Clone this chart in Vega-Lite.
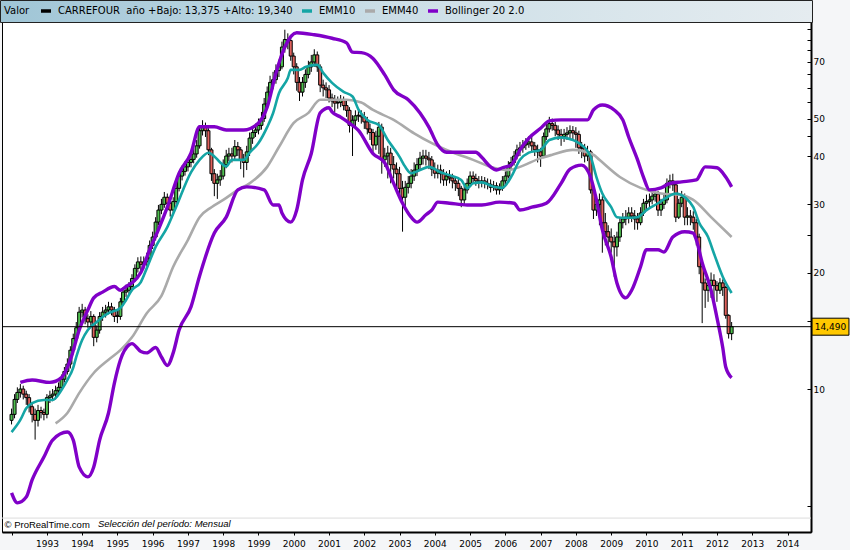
{
"$schema":"https://vega.github.io/schema/vega-lite/v6.json",
"width":809,"height":514,
"autosize":{"type":"none"},
"padding":{"left":2,"top":18,"right":39,"bottom":18},
"background":"#f5f6f8",
"config":{"view":{"stroke":"#000000","strokeWidth":1,"fill":"#ffffff"},"font":"DejaVu Sans"},
"title":{"text":"Selección del período: Mensual","orient":"top","anchor":"start","frame":"group","offset":0,"dx":96,"dy":534,"font":"Liberation Sans","fontSize":9.5,"fontStyle":"italic","fontWeight":"normal","color":"#000000","baseline":"middle"},
"datasets":{
"last":[{"p":14.49,"t":"14,490"}],
"candles":[
{"d":"1992-01-01","o":8.3,"h":8.9,"l":8.1,"c":8.6},
{"d":"1992-02-01","o":8.6,"h":9.7,"l":8.4,"c":9.4},
{"d":"1992-03-01","o":9.4,"h":10.1,"l":9.2,"c":9.8},
{"d":"1992-04-01","o":9.8,"h":10.3,"l":9.5,"c":10.0},
{"d":"1992-05-01","o":10.0,"h":10.2,"l":9.4,"c":9.7},
{"d":"1992-06-01","o":9.7,"h":9.9,"l":9.1,"c":9.5},
{"d":"1992-07-01","o":9.5,"h":9.7,"l":8.7,"c":9.0},
{"d":"1992-08-01","o":9.0,"h":9.2,"l":8.2,"c":8.6},
{"d":"1992-09-01","o":8.6,"h":8.9,"l":7.4,"c":8.3},
{"d":"1992-10-01","o":8.3,"h":9.1,"l":8.0,"c":8.8},
{"d":"1992-11-01","o":8.8,"h":9.0,"l":8.4,"c":8.7},
{"d":"1992-12-01","o":8.7,"h":8.9,"l":8.3,"c":8.6},
{"d":"1993-01-01","o":8.6,"h":9.7,"l":8.4,"c":9.5},
{"d":"1993-02-01","o":9.5,"h":9.9,"l":9.2,"c":9.6},
{"d":"1993-03-01","o":9.6,"h":10.0,"l":9.3,"c":9.7},
{"d":"1993-04-01","o":9.7,"h":10.2,"l":9.4,"c":9.9},
{"d":"1993-05-01","o":9.9,"h":10.4,"l":9.6,"c":10.1},
{"d":"1993-06-01","o":10.1,"h":10.9,"l":9.9,"c":10.6},
{"d":"1993-07-01","o":10.6,"h":11.4,"l":10.4,"c":11.1},
{"d":"1993-08-01","o":11.1,"h":12.0,"l":10.9,"c":11.6},
{"d":"1993-09-01","o":11.6,"h":12.9,"l":11.3,"c":12.6},
{"d":"1993-10-01","o":12.6,"h":13.9,"l":12.3,"c":13.5},
{"d":"1993-11-01","o":13.5,"h":14.9,"l":13.2,"c":14.4},
{"d":"1993-12-01","o":14.4,"h":16.3,"l":14.1,"c":15.8},
{"d":"1994-01-01","o":15.8,"h":16.6,"l":15.3,"c":16.0},
{"d":"1994-02-01","o":16.0,"h":16.3,"l":14.7,"c":15.2},
{"d":"1994-03-01","o":15.2,"h":15.6,"l":14.4,"c":14.9},
{"d":"1994-04-01","o":14.9,"h":15.9,"l":14.5,"c":15.4},
{"d":"1994-05-01","o":15.4,"h":15.6,"l":12.9,"c":13.6},
{"d":"1994-06-01","o":13.6,"h":14.6,"l":13.2,"c":14.2},
{"d":"1994-07-01","o":14.2,"h":15.8,"l":13.9,"c":15.4},
{"d":"1994-08-01","o":15.4,"h":16.3,"l":15.0,"c":15.8},
{"d":"1994-09-01","o":15.8,"h":16.5,"l":15.3,"c":16.0},
{"d":"1994-10-01","o":16.0,"h":16.8,"l":15.6,"c":16.3},
{"d":"1994-11-01","o":16.3,"h":16.7,"l":15.5,"c":16.0},
{"d":"1994-12-01","o":16.0,"h":16.3,"l":14.9,"c":15.4},
{"d":"1995-01-01","o":15.5,"h":15.9,"l":14.8,"c":15.4},
{"d":"1995-02-01","o":15.4,"h":17.2,"l":15.1,"c":16.8},
{"d":"1995-03-01","o":16.8,"h":18.3,"l":16.4,"c":17.8},
{"d":"1995-04-01","o":17.8,"h":18.6,"l":17.3,"c":18.0},
{"d":"1995-05-01","o":18.0,"h":18.9,"l":17.5,"c":18.4},
{"d":"1995-06-01","o":18.4,"h":19.8,"l":17.9,"c":19.3},
{"d":"1995-07-01","o":19.3,"h":21.0,"l":18.9,"c":20.5},
{"d":"1995-08-01","o":20.5,"h":21.9,"l":20.0,"c":21.3},
{"d":"1995-09-01","o":21.3,"h":22.0,"l":20.3,"c":21.0},
{"d":"1995-10-01","o":21.0,"h":22.0,"l":20.4,"c":21.3},
{"d":"1995-11-01","o":21.3,"h":22.5,"l":20.8,"c":21.8},
{"d":"1995-12-01","o":21.8,"h":24.2,"l":21.4,"c":23.5},
{"d":"1996-01-01","o":23.5,"h":25.5,"l":23.0,"c":24.7},
{"d":"1996-02-01","o":24.7,"h":27.8,"l":24.2,"c":27.0},
{"d":"1996-03-01","o":27.0,"h":29.9,"l":26.5,"c":29.0},
{"d":"1996-04-01","o":29.0,"h":31.0,"l":28.3,"c":30.0},
{"d":"1996-05-01","o":30.0,"h":32.3,"l":29.4,"c":31.3},
{"d":"1996-06-01","o":31.3,"h":32.0,"l":29.3,"c":30.2},
{"d":"1996-07-01","o":30.2,"h":30.8,"l":27.9,"c":29.0},
{"d":"1996-08-01","o":29.0,"h":31.3,"l":28.4,"c":30.5},
{"d":"1996-09-01","o":30.5,"h":34.0,"l":30.0,"c":33.0},
{"d":"1996-10-01","o":33.0,"h":36.5,"l":32.4,"c":35.5},
{"d":"1996-11-01","o":35.5,"h":37.8,"l":34.6,"c":36.5},
{"d":"1996-12-01","o":36.5,"h":38.8,"l":35.6,"c":37.5},
{"d":"1997-01-01","o":37.5,"h":39.8,"l":36.5,"c":38.5},
{"d":"1997-02-01","o":38.5,"h":40.6,"l":37.4,"c":39.2},
{"d":"1997-03-01","o":39.2,"h":41.8,"l":38.3,"c":40.5},
{"d":"1997-04-01","o":40.5,"h":44.0,"l":39.6,"c":42.5},
{"d":"1997-05-01","o":42.5,"h":48.0,"l":41.8,"c":46.5},
{"d":"1997-06-01","o":46.5,"h":49.5,"l":45.2,"c":47.5},
{"d":"1997-07-01","o":47.5,"h":48.8,"l":44.8,"c":46.5},
{"d":"1997-08-01","o":46.5,"h":47.2,"l":40.2,"c":41.5},
{"d":"1997-09-01","o":41.5,"h":42.0,"l":34.5,"c":36.0},
{"d":"1997-10-01","o":36.0,"h":37.0,"l":31.5,"c":34.0},
{"d":"1997-11-01","o":34.0,"h":36.0,"l":31.0,"c":34.7},
{"d":"1997-12-01","o":34.7,"h":36.8,"l":33.5,"c":35.5},
{"d":"1998-01-01","o":35.5,"h":39.2,"l":34.8,"c":38.0},
{"d":"1998-02-01","o":38.0,"h":41.5,"l":37.2,"c":40.0},
{"d":"1998-03-01","o":40.0,"h":42.0,"l":38.8,"c":40.5},
{"d":"1998-04-01","o":40.5,"h":42.0,"l":38.5,"c":40.0},
{"d":"1998-05-01","o":40.0,"h":44.0,"l":39.2,"c":42.3},
{"d":"1998-06-01","o":42.3,"h":43.5,"l":40.0,"c":41.5},
{"d":"1998-07-01","o":41.5,"h":42.2,"l":37.0,"c":39.1},
{"d":"1998-08-01","o":39.1,"h":40.5,"l":35.2,"c":38.5},
{"d":"1998-09-01","o":38.5,"h":42.5,"l":36.8,"c":41.0},
{"d":"1998-10-01","o":41.0,"h":46.0,"l":40.0,"c":44.5},
{"d":"1998-11-01","o":44.5,"h":47.5,"l":43.0,"c":46.0},
{"d":"1998-12-01","o":46.0,"h":48.5,"l":44.8,"c":46.7},
{"d":"1999-01-01","o":46.7,"h":50.0,"l":45.5,"c":48.0},
{"d":"1999-02-01","o":48.0,"h":52.0,"l":46.8,"c":50.0},
{"d":"1999-03-01","o":50.0,"h":56.5,"l":49.0,"c":54.5},
{"d":"1999-04-01","o":54.5,"h":60.5,"l":53.0,"c":58.5},
{"d":"1999-05-01","o":58.5,"h":64.5,"l":57.0,"c":62.0},
{"d":"1999-06-01","o":62.0,"h":66.0,"l":59.5,"c":63.0},
{"d":"1999-07-01","o":63.0,"h":69.0,"l":61.5,"c":66.5},
{"d":"1999-08-01","o":66.5,"h":71.0,"l":64.0,"c":68.0},
{"d":"1999-09-01","o":68.0,"h":79.0,"l":67.0,"c":76.5},
{"d":"1999-10-01","o":76.5,"h":84.8,"l":74.0,"c":80.0},
{"d":"1999-11-01","o":80.0,"h":83.0,"l":75.5,"c":79.5},
{"d":"1999-12-01","o":79.5,"h":81.0,"l":70.5,"c":72.5},
{"d":"2000-01-01","o":72.5,"h":74.0,"l":65.0,"c":68.0},
{"d":"2000-02-01","o":68.0,"h":69.5,"l":59.0,"c":62.0},
{"d":"2000-03-01","o":62.0,"h":64.0,"l":55.5,"c":58.5},
{"d":"2000-04-01","o":58.5,"h":64.0,"l":57.0,"c":62.0},
{"d":"2000-05-01","o":62.0,"h":67.0,"l":60.0,"c":65.0},
{"d":"2000-06-01","o":65.0,"h":70.5,"l":63.5,"c":68.0},
{"d":"2000-07-01","o":68.0,"h":73.0,"l":66.0,"c":70.0},
{"d":"2000-08-01","o":70.0,"h":75.5,"l":68.0,"c":73.0},
{"d":"2000-09-01","o":73.0,"h":74.5,"l":66.0,"c":68.0},
{"d":"2000-10-01","o":68.0,"h":69.0,"l":58.5,"c":61.0},
{"d":"2000-11-01","o":61.0,"h":63.0,"l":57.0,"c":60.0},
{"d":"2000-12-01","o":60.0,"h":62.0,"l":56.5,"c":59.3},
{"d":"2001-01-01","o":59.3,"h":61.0,"l":55.0,"c":56.5},
{"d":"2001-02-01","o":56.5,"h":58.0,"l":53.5,"c":55.5},
{"d":"2001-03-01","o":55.5,"h":57.5,"l":52.0,"c":54.8},
{"d":"2001-04-01","o":54.8,"h":57.0,"l":53.0,"c":55.0},
{"d":"2001-05-01","o":55.0,"h":57.5,"l":53.5,"c":56.0},
{"d":"2001-06-01","o":56.0,"h":57.0,"l":52.5,"c":54.0},
{"d":"2001-07-01","o":54.0,"h":55.5,"l":50.5,"c":52.5},
{"d":"2001-08-01","o":52.5,"h":53.5,"l":46.0,"c":48.0},
{"d":"2001-09-01","o":48.0,"h":51.0,"l":40.0,"c":49.5},
{"d":"2001-10-01","o":49.5,"h":52.5,"l":47.5,"c":50.8},
{"d":"2001-11-01","o":50.8,"h":53.0,"l":49.0,"c":51.0},
{"d":"2001-12-01","o":51.0,"h":52.5,"l":48.5,"c":50.5},
{"d":"2002-01-01","o":50.5,"h":52.0,"l":47.0,"c":49.0},
{"d":"2002-02-01","o":49.0,"h":50.5,"l":45.5,"c":47.0},
{"d":"2002-03-01","o":47.0,"h":48.5,"l":44.0,"c":46.0},
{"d":"2002-04-01","o":46.0,"h":47.0,"l":41.0,"c":42.7},
{"d":"2002-05-01","o":42.7,"h":46.5,"l":41.5,"c":45.0},
{"d":"2002-06-01","o":45.0,"h":49.0,"l":40.5,"c":47.5},
{"d":"2002-07-01","o":47.5,"h":48.5,"l":36.0,"c":39.1},
{"d":"2002-08-01","o":39.1,"h":42.0,"l":37.5,"c":40.0},
{"d":"2002-09-01","o":40.0,"h":42.5,"l":35.0,"c":40.7},
{"d":"2002-10-01","o":40.7,"h":42.0,"l":34.0,"c":38.0},
{"d":"2002-11-01","o":38.0,"h":40.0,"l":35.0,"c":37.0},
{"d":"2002-12-01","o":37.0,"h":38.5,"l":32.5,"c":36.0},
{"d":"2003-01-01","o":36.0,"h":37.5,"l":31.0,"c":33.0},
{"d":"2003-02-01","o":33.0,"h":34.5,"l":25.5,"c":31.3},
{"d":"2003-03-01","o":31.3,"h":34.5,"l":29.0,"c":33.2},
{"d":"2003-04-01","o":33.2,"h":35.5,"l":32.0,"c":34.0},
{"d":"2003-05-01","o":34.0,"h":37.0,"l":33.0,"c":35.5},
{"d":"2003-06-01","o":35.5,"h":38.5,"l":34.5,"c":36.8},
{"d":"2003-07-01","o":36.8,"h":39.5,"l":35.5,"c":38.0},
{"d":"2003-08-01","o":38.0,"h":41.0,"l":36.8,"c":39.5},
{"d":"2003-09-01","o":39.5,"h":41.5,"l":38.0,"c":40.0},
{"d":"2003-10-01","o":40.0,"h":41.5,"l":37.8,"c":39.5},
{"d":"2003-11-01","o":39.5,"h":41.0,"l":37.0,"c":39.1},
{"d":"2003-12-01","o":39.1,"h":40.0,"l":35.5,"c":37.0},
{"d":"2004-01-01","o":37.0,"h":38.5,"l":35.0,"c":36.1},
{"d":"2004-02-01","o":36.1,"h":38.0,"l":35.0,"c":36.8},
{"d":"2004-03-01","o":36.8,"h":38.0,"l":34.0,"c":36.0},
{"d":"2004-04-01","o":36.0,"h":37.0,"l":33.5,"c":34.7},
{"d":"2004-05-01","o":34.7,"h":36.5,"l":33.5,"c":35.5},
{"d":"2004-06-01","o":35.5,"h":36.8,"l":34.0,"c":35.1},
{"d":"2004-07-01","o":35.1,"h":36.0,"l":33.0,"c":34.5},
{"d":"2004-08-01","o":34.5,"h":35.5,"l":32.5,"c":34.0},
{"d":"2004-09-01","o":34.0,"h":35.0,"l":31.5,"c":33.0},
{"d":"2004-10-01","o":33.0,"h":33.5,"l":29.5,"c":30.8},
{"d":"2004-11-01","o":30.8,"h":33.5,"l":30.0,"c":32.7},
{"d":"2004-12-01","o":32.7,"h":35.0,"l":32.0,"c":34.0},
{"d":"2005-01-01","o":34.0,"h":36.5,"l":33.5,"c":35.5},
{"d":"2005-02-01","o":35.5,"h":36.5,"l":34.0,"c":35.0},
{"d":"2005-03-01","o":35.0,"h":36.0,"l":33.5,"c":34.5},
{"d":"2005-04-01","o":34.5,"h":35.5,"l":33.0,"c":34.3},
{"d":"2005-05-01","o":34.3,"h":35.5,"l":33.2,"c":34.5},
{"d":"2005-06-01","o":34.5,"h":35.3,"l":33.0,"c":34.0},
{"d":"2005-07-01","o":34.0,"h":35.0,"l":32.8,"c":33.8},
{"d":"2005-08-01","o":33.8,"h":34.8,"l":32.2,"c":33.2},
{"d":"2005-09-01","o":33.2,"h":34.5,"l":32.5,"c":33.5},
{"d":"2005-10-01","o":33.5,"h":34.2,"l":31.8,"c":32.7},
{"d":"2005-11-01","o":32.7,"h":34.0,"l":31.8,"c":33.0},
{"d":"2005-12-01","o":33.0,"h":35.5,"l":32.5,"c":34.5},
{"d":"2006-01-01","o":34.5,"h":36.5,"l":33.8,"c":35.5},
{"d":"2006-02-01","o":35.5,"h":38.8,"l":35.0,"c":37.7},
{"d":"2006-03-01","o":37.7,"h":39.8,"l":36.8,"c":38.5},
{"d":"2006-04-01","o":38.5,"h":41.2,"l":37.8,"c":40.0},
{"d":"2006-05-01","o":40.0,"h":42.8,"l":39.2,"c":41.5},
{"d":"2006-06-01","o":41.5,"h":43.5,"l":40.0,"c":42.0},
{"d":"2006-07-01","o":42.0,"h":44.0,"l":40.8,"c":42.7},
{"d":"2006-08-01","o":42.7,"h":44.5,"l":41.5,"c":43.0},
{"d":"2006-09-01","o":43.0,"h":45.0,"l":42.0,"c":43.5},
{"d":"2006-10-01","o":43.5,"h":44.8,"l":41.2,"c":42.5},
{"d":"2006-11-01","o":42.5,"h":43.5,"l":40.0,"c":41.5},
{"d":"2006-12-01","o":41.5,"h":42.8,"l":38.5,"c":41.0},
{"d":"2007-01-01","o":41.0,"h":42.0,"l":37.5,"c":40.0},
{"d":"2007-02-01","o":40.0,"h":46.0,"l":39.5,"c":44.9},
{"d":"2007-03-01","o":44.9,"h":48.5,"l":44.0,"c":47.0},
{"d":"2007-04-01","o":47.0,"h":50.5,"l":46.0,"c":48.5},
{"d":"2007-05-01","o":48.5,"h":50.0,"l":46.5,"c":48.0},
{"d":"2007-06-01","o":48.0,"h":49.0,"l":45.0,"c":46.7},
{"d":"2007-07-01","o":46.7,"h":48.0,"l":44.0,"c":45.5},
{"d":"2007-08-01","o":45.5,"h":47.0,"l":42.5,"c":44.9},
{"d":"2007-09-01","o":44.9,"h":47.0,"l":43.5,"c":45.5},
{"d":"2007-10-01","o":45.5,"h":47.5,"l":44.0,"c":45.9},
{"d":"2007-11-01","o":45.9,"h":48.0,"l":44.5,"c":46.5},
{"d":"2007-12-01","o":46.5,"h":47.8,"l":44.0,"c":45.9},
{"d":"2008-01-01","o":45.9,"h":47.5,"l":42.0,"c":45.5},
{"d":"2008-02-01","o":45.5,"h":46.5,"l":40.5,"c":42.0},
{"d":"2008-03-01","o":42.0,"h":43.5,"l":39.5,"c":41.9},
{"d":"2008-04-01","o":41.9,"h":43.0,"l":38.5,"c":40.0},
{"d":"2008-05-01","o":40.0,"h":42.5,"l":38.8,"c":41.0},
{"d":"2008-06-01","o":41.0,"h":41.5,"l":32.0,"c":32.7},
{"d":"2008-07-01","o":32.7,"h":33.5,"l":27.5,"c":29.0},
{"d":"2008-08-01","o":29.0,"h":31.5,"l":28.0,"c":30.0},
{"d":"2008-09-01","o":30.0,"h":32.0,"l":26.5,"c":30.8},
{"d":"2008-10-01","o":30.8,"h":31.5,"l":22.5,"c":26.9},
{"d":"2008-11-01","o":26.9,"h":28.5,"l":23.5,"c":25.5},
{"d":"2008-12-01","o":25.5,"h":26.5,"l":23.0,"c":24.7},
{"d":"2009-01-01","o":24.7,"h":26.0,"l":22.5,"c":24.0},
{"d":"2009-02-01","o":24.0,"h":25.0,"l":19.5,"c":23.3},
{"d":"2009-03-01","o":23.3,"h":25.5,"l":22.0,"c":24.7},
{"d":"2009-04-01","o":24.7,"h":27.8,"l":24.0,"c":26.9},
{"d":"2009-05-01","o":26.9,"h":28.5,"l":26.0,"c":27.5},
{"d":"2009-06-01","o":27.5,"h":29.0,"l":26.5,"c":27.8},
{"d":"2009-07-01","o":27.8,"h":29.5,"l":26.8,"c":28.5},
{"d":"2009-08-01","o":28.5,"h":29.5,"l":27.0,"c":28.0},
{"d":"2009-09-01","o":28.0,"h":29.0,"l":25.8,"c":27.5},
{"d":"2009-10-01","o":27.5,"h":28.5,"l":25.8,"c":26.9},
{"d":"2009-11-01","o":26.9,"h":29.5,"l":26.5,"c":28.5},
{"d":"2009-12-01","o":28.5,"h":31.0,"l":28.0,"c":30.2},
{"d":"2010-01-01","o":30.2,"h":31.8,"l":29.2,"c":30.5},
{"d":"2010-02-01","o":30.5,"h":32.0,"l":29.5,"c":30.8},
{"d":"2010-03-01","o":30.8,"h":32.8,"l":30.0,"c":31.5},
{"d":"2010-04-01","o":31.5,"h":33.0,"l":30.5,"c":31.9},
{"d":"2010-05-01","o":31.9,"h":32.5,"l":28.0,"c":29.0},
{"d":"2010-06-01","o":29.0,"h":31.0,"l":28.0,"c":30.0},
{"d":"2010-07-01","o":30.0,"h":32.0,"l":29.2,"c":30.8},
{"d":"2010-08-01","o":30.8,"h":35.0,"l":30.2,"c":34.0},
{"d":"2010-09-01","o":34.0,"h":35.8,"l":33.0,"c":34.5},
{"d":"2010-10-01","o":34.5,"h":36.0,"l":32.5,"c":33.7},
{"d":"2010-11-01","o":33.7,"h":34.5,"l":27.0,"c":27.8},
{"d":"2010-12-01","o":27.8,"h":31.0,"l":27.5,"c":30.2},
{"d":"2011-01-01","o":30.2,"h":32.5,"l":29.5,"c":31.3},
{"d":"2011-02-01","o":31.3,"h":32.0,"l":26.5,"c":27.8},
{"d":"2011-03-01","o":27.8,"h":29.5,"l":26.5,"c":28.0},
{"d":"2011-04-01","o":28.0,"h":29.0,"l":26.5,"c":27.8},
{"d":"2011-05-01","o":27.8,"h":28.8,"l":25.8,"c":26.9},
{"d":"2011-06-01","o":26.9,"h":27.5,"l":23.5,"c":24.7},
{"d":"2011-07-01","o":24.7,"h":25.2,"l":19.8,"c":20.7},
{"d":"2011-08-01","o":20.7,"h":21.2,"l":14.8,"c":18.8},
{"d":"2011-09-01","o":18.8,"h":19.3,"l":16.2,"c":18.0},
{"d":"2011-10-01","o":18.0,"h":19.3,"l":16.8,"c":18.5},
{"d":"2011-11-01","o":18.5,"h":20.0,"l":17.2,"c":19.1},
{"d":"2011-12-01","o":19.1,"h":19.8,"l":17.0,"c":18.5},
{"d":"2012-01-01","o":18.5,"h":19.0,"l":16.8,"c":18.0},
{"d":"2012-02-01","o":18.0,"h":19.34,"l":17.6,"c":18.8},
{"d":"2012-03-01","o":18.8,"h":19.2,"l":17.4,"c":18.3},
{"d":"2012-04-01","o":18.3,"h":18.5,"l":15.2,"c":15.5},
{"d":"2012-05-01","o":15.5,"h":15.6,"l":13.5,"c":13.9},
{"d":"2012-06-01","o":13.9,"h":14.9,"l":13.375,"c":14.49}
],
"ema10":[
{"d":"1992-01-01","v":7.74},{"d":"1992-04-01","v":8.32},{"d":"1992-06-01","v":8.92},{"d":"1992-08-01","v":9.2},{"d":"1992-12-01","v":9.37},
{"d":"1993-03-01","v":9.37},{"d":"1993-06-01","v":9.94},{"d":"1993-08-01","v":10.55},{"d":"1993-10-01","v":11.36},{"d":"1993-11-01","v":12.1},
{"d":"1994-01-01","v":13.39},{"d":"1994-03-01","v":14.21},{"d":"1994-06-01","v":14.9},{"d":"1994-08-01","v":15.35},{"d":"1994-10-01","v":15.7},
{"d":"1995-02-01","v":16.2},{"d":"1995-04-01","v":16.98},{"d":"1995-06-01","v":18.03},{"d":"1995-09-01","v":18.9},{"d":"1995-11-01","v":20.5},
{"d":"1996-02-01","v":23.3},{"d":"1996-06-01","v":26.2},{"d":"1996-09-01","v":29.6},{"d":"1997-02-01","v":36.3},{"d":"1997-05-01","v":39.1},
{"d":"1997-08-01","v":40.8},{"d":"1997-10-01","v":39.9},{"d":"1997-12-01","v":38.5},{"d":"1998-02-01","v":37.6},{"d":"1998-04-01","v":39.1},
{"d":"1998-08-01","v":39.1},{"d":"1998-10-01","v":40.8},{"d":"1999-01-01","v":43.2},{"d":"1999-04-01","v":47.5},{"d":"1999-06-01","v":51.6},
{"d":"1999-08-01","v":58.1},{"d":"1999-11-01","v":63.6},{"d":"1999-12-01","v":66.8},{"d":"2000-03-01","v":66.8},{"d":"2000-05-01","v":67.9},
{"d":"2000-09-01","v":68.8},{"d":"2000-11-01","v":65.6},{"d":"2001-02-01","v":61.8},{"d":"2001-06-01","v":58.6},{"d":"2001-09-01","v":57.0},
{"d":"2001-11-01","v":52.8},{"d":"2002-02-01","v":49.6},{"d":"2002-06-01","v":48.1},{"d":"2002-09-01","v":44.0},{"d":"2002-11-01","v":41.9},
{"d":"2003-01-01","v":39.8},{"d":"2003-03-01","v":37.5},{"d":"2003-05-01","v":36.1},{"d":"2003-08-01","v":36.8},{"d":"2003-11-01","v":37.5},
{"d":"2004-03-01","v":36.3},{"d":"2004-06-01","v":35.7},{"d":"2004-10-01","v":34.7},{"d":"2004-12-01","v":33.0},{"d":"2005-02-01","v":34.0},
{"d":"2005-05-01","v":34.2},{"d":"2005-09-01","v":33.3},{"d":"2005-12-01","v":33.1},{"d":"2006-03-01","v":35.3},{"d":"2006-06-01","v":39.1},
{"d":"2006-09-01","v":40.8},{"d":"2007-01-01","v":41.5},{"d":"2007-04-01","v":44.0},{"d":"2007-08-01","v":44.7},{"d":"2007-12-01","v":44.0},
{"d":"2008-02-01","v":43.2},{"d":"2008-06-01","v":39.9},{"d":"2008-08-01","v":35.3},{"d":"2008-10-01","v":32.0},{"d":"2009-01-01","v":29.5},
{"d":"2009-03-01","v":27.8},{"d":"2009-06-01","v":27.7},{"d":"2009-10-01","v":27.8},{"d":"2010-01-01","v":29.0},{"d":"2010-05-01","v":30.2},
{"d":"2010-08-01","v":31.3},{"d":"2010-11-01","v":32.0},{"d":"2011-02-01","v":31.3},{"d":"2011-05-01","v":29.5},{"d":"2011-07-01","v":26.9},
{"d":"2011-10-01","v":24.7},{"d":"2011-12-01","v":22.4},{"d":"2012-03-01","v":19.5},{"d":"2012-06-01","v":17.7}
],
"ema40":[
{"d":"1993-04-01","v":8.15},{"d":"1993-08-01","v":8.67},{"d":"1993-12-01","v":9.76},{"d":"1994-05-01","v":11.0},{"d":"1994-10-01","v":11.9},
{"d":"1995-02-01","v":12.6},{"d":"1995-06-01","v":13.6},{"d":"1995-11-01","v":15.7},{"d":"1996-04-01","v":17.4},{"d":"1996-08-01","v":20.7},
{"d":"1997-01-01","v":24.3},{"d":"1997-05-01","v":27.8},{"d":"1997-09-01","v":29.5},{"d":"1998-01-01","v":30.8},{"d":"1998-06-01","v":32.7},
{"d":"1998-10-01","v":34.0},{"d":"1999-04-01","v":37.5},{"d":"1999-08-01","v":42.2},{"d":"2000-01-01","v":48.7},{"d":"2000-06-01","v":51.7},
{"d":"2000-10-01","v":55.9},{"d":"2001-02-01","v":55.9},{"d":"2001-07-01","v":55.9},{"d":"2001-12-01","v":55.0},{"d":"2002-04-01","v":52.6},
{"d":"2002-11-01","v":49.6},{"d":"2003-06-01","v":45.8},{"d":"2003-12-01","v":43.2},{"d":"2004-07-01","v":40.9},{"d":"2005-02-01","v":39.1},
{"d":"2005-09-01","v":37.3},{"d":"2006-02-01","v":36.8},{"d":"2006-06-01","v":37.5},{"d":"2007-01-01","v":39.5},{"d":"2007-05-01","v":40.3},
{"d":"2007-12-01","v":41.5},{"d":"2008-07-01","v":40.3},{"d":"2008-09-01","v":39.1},{"d":"2009-04-01","v":35.3},{"d":"2009-11-01","v":33.1},
{"d":"2010-06-01","v":32.0},{"d":"2011-01-01","v":31.7},{"d":"2011-05-01","v":30.8},{"d":"2011-11-01","v":27.8},{"d":"2012-06-01","v":24.7}
],
"bbup":[
{"d":"1992-04-01","v":10.4},{"d":"1992-08-01","v":10.55},{"d":"1993-02-01","v":10.4},{"d":"1993-06-01","v":10.7},{"d":"1993-09-01","v":11.9},
{"d":"1993-12-01","v":14.2},{"d":"1994-03-01","v":16.0},{"d":"1994-05-01","v":17.2},{"d":"1994-08-01","v":17.8},{"d":"1994-12-01","v":18.4},
{"d":"1995-02-01","v":18.0},{"d":"1995-04-01","v":18.4},{"d":"1995-06-01","v":18.8},{"d":"1995-09-01","v":20.0},{"d":"1995-12-01","v":22.9},
{"d":"1996-03-01","v":25.8},{"d":"1996-06-01","v":29.5},{"d":"1996-10-01","v":36.1},{"d":"1997-02-01","v":40.7},{"d":"1997-05-01","v":47.6},
{"d":"1997-10-01","v":47.6},{"d":"1998-02-01","v":46.7},{"d":"1998-08-01","v":46.7},{"d":"1999-01-01","v":48.7},{"d":"1999-04-01","v":53.5},
{"d":"1999-07-01","v":65.5},{"d":"1999-10-01","v":76.5},{"d":"2000-02-01","v":83.3},{"d":"2000-08-01","v":82.3},{"d":"2001-02-01","v":80.6},
{"d":"2001-07-01","v":78.4},{"d":"2001-09-01","v":74.2},{"d":"2001-12-01","v":74.0},{"d":"2002-04-01","v":71.5},{"d":"2002-08-01","v":64.8},
{"d":"2002-11-01","v":59.3},{"d":"2003-04-01","v":55.9},{"d":"2003-08-01","v":51.7},{"d":"2003-11-01","v":47.5},{"d":"2004-02-01","v":42.7},
{"d":"2004-05-01","v":40.9},{"d":"2004-10-01","v":40.9},{"d":"2005-03-01","v":40.9},{"d":"2005-05-01","v":39.7},{"d":"2005-08-01","v":37.5},
{"d":"2005-10-01","v":36.8},{"d":"2005-12-01","v":37.3},{"d":"2006-03-01","v":37.9},{"d":"2006-06-01","v":41.5},{"d":"2006-09-01","v":44.5},
{"d":"2007-01-01","v":47.2},{"d":"2007-04-01","v":49.3},{"d":"2007-08-01","v":49.6},{"d":"2008-05-01","v":49.6},{"d":"2008-07-01","v":52.6},
{"d":"2008-10-01","v":54.2},{"d":"2009-02-01","v":52.6},{"d":"2009-05-01","v":49.6},{"d":"2009-07-01","v":44.8},{"d":"2009-10-01","v":39.1},
{"d":"2009-12-01","v":35.3},{"d":"2010-02-01","v":32.7},{"d":"2010-06-01","v":33.1},{"d":"2010-09-01","v":34.0},{"d":"2011-01-01","v":34.3},
{"d":"2011-06-01","v":34.7},{"d":"2011-09-01","v":37.5},{"d":"2012-01-01","v":37.3},{"d":"2012-04-01","v":35.3},{"d":"2012-06-01","v":33.3}
],
"bblo":[
{"d":"1992-01-01","v":5.39},{"d":"1992-03-01","v":5.08},{"d":"1992-06-01","v":5.26},{"d":"1992-08-01","v":5.82},{"d":"1992-12-01","v":6.67},
{"d":"1993-03-01","v":7.38},{"d":"1993-08-01","v":7.74},{"d":"1993-10-01","v":7.38},{"d":"1993-12-01","v":6.29},{"d":"1994-03-01","v":5.93},
{"d":"1994-05-01","v":6.29},{"d":"1994-07-01","v":7.38},{"d":"1994-10-01","v":8.67},{"d":"1994-12-01","v":10.36},{"d":"1995-02-01","v":11.88},
{"d":"1995-05-01","v":13.0},{"d":"1995-06-01","v":13.1},{"d":"1995-09-01","v":12.5},{"d":"1995-11-01","v":12.4},{"d":"1996-02-01","v":12.8},
{"d":"1996-04-01","v":12.1},{"d":"1996-06-01","v":11.5},{"d":"1996-08-01","v":12.4},{"d":"1996-10-01","v":14.2},{"d":"1997-02-01","v":16.3},
{"d":"1997-05-01","v":19.6},{"d":"1997-10-01","v":25.3},{"d":"1998-02-01","v":27.8},{"d":"1998-06-01","v":32.7},{"d":"1998-09-01","v":33.3},
{"d":"1999-03-01","v":32.7},{"d":"1999-06-01","v":29.9},{"d":"1999-08-01","v":29.9},{"d":"1999-09-01","v":28.5},{"d":"1999-12-01","v":27.0},
{"d":"2000-02-01","v":29.0},{"d":"2000-04-01","v":34.7},{"d":"2000-07-01","v":40.6},{"d":"2000-10-01","v":51.7},{"d":"2001-01-01","v":53.3},
{"d":"2001-02-01","v":52.0},{"d":"2001-05-01","v":50.4},{"d":"2001-08-01","v":48.6},{"d":"2001-11-01","v":46.6},{"d":"2002-04-01","v":40.6},
{"d":"2002-08-01","v":38.4},{"d":"2002-11-01","v":34.0},{"d":"2003-02-01","v":30.2},{"d":"2003-05-01","v":27.8},{"d":"2003-07-01","v":27.0},
{"d":"2003-10-01","v":28.2},{"d":"2003-12-01","v":29.0},{"d":"2004-02-01","v":30.4},{"d":"2004-06-01","v":30.2},{"d":"2004-12-01","v":29.9},
{"d":"2005-05-01","v":29.9},{"d":"2005-11-01","v":30.4},{"d":"2006-04-01","v":30.2},{"d":"2006-06-01","v":29.0},{"d":"2006-10-01","v":29.5},
{"d":"2007-03-01","v":30.2},{"d":"2007-08-01","v":34.0},{"d":"2007-11-01","v":37.0},{"d":"2008-03-01","v":37.9},{"d":"2008-06-01","v":35.3},
{"d":"2008-08-01","v":30.8},{"d":"2008-10-01","v":25.8},{"d":"2009-01-01","v":21.9},{"d":"2009-03-01","v":18.8},{"d":"2009-06-01","v":17.2},
{"d":"2009-08-01","v":18.0},{"d":"2009-11-01","v":20.7},{"d":"2010-01-01","v":22.9},{"d":"2010-05-01","v":22.9},{"d":"2010-07-01","v":22.6},
{"d":"2010-10-01","v":24.7},{"d":"2011-02-01","v":25.5},{"d":"2011-05-01","v":25.3},{"d":"2011-06-01","v":24.3},{"d":"2011-08-01","v":21.2},
{"d":"2011-11-01","v":18.0},{"d":"2012-01-01","v":15.3},{"d":"2012-03-01","v":12.8},{"d":"2012-04-01","v":11.4},{"d":"2012-06-01","v":10.7}
]
},
"layer":[
{"data":{"values":[{}]},"mark":{"type":"rule","color":"#dcdcdc","strokeWidth":1},
 "encoding":{"y":{"datum":4.64,"type":"quantitative","title":null,"scale":{"type":"log","domain":[4.271,90.93],"nice":false,"zero":false}}}},
{"data":{"name":"candles"},"mark":{"type":"rule","color":"#000000","strokeWidth":1},
 "encoding":{
  "x":{"field":"d","type":"temporal","title":"© ProRealTime.com",
   "scale":{"type":"utc","padding":0,"domain":[{"year":1991,"month":9,"date":24,"utc":true},{"year":2014,"month":9,"date":1,"utc":true}]},
   "axis":{"orient":"bottom","tickCount":{"interval":"year","step":1},
    "labelExpr":"utcyear(datum.value) < 1993 ? '' : datum.label",
    "format":"%Y","formatType":"utc","grid":false,"domainColor":"#000000","domainWidth":2,"tickColor":"#000000","tickSize":3,"tickWidth":1,
    "labelPadding":4,"labelFont":"DejaVu Sans","labelFontSize":9,"labelColor":"#000000","labelFlush":false,"labelOverlap":false,"labelSeparation":0,
    "titleX":2,"titleY":-8,"titleAlign":"left","titleAnchor":"start","titleBaseline":"middle","titleFont":"Liberation Sans","titleFontSize":9.5,"titleFontWeight":"normal","titleColor":"#000000"}},
  "y":{"field":"l","type":"quantitative","title":null,"scale":{"type":"log","domain":[4.271,90.93],"nice":false,"zero":false},
   "axis":{"orient":"right","values":[5,10,15,20,25,30,40,45,50,55,60,65,70,75,80,85],"format":"d",
    "labelExpr":"indexof([10,20,30,40,50,70], datum.value) >= 0 ? datum.label : ''",
    "grid":false,"domainColor":"#000000","domainWidth":2,"tickColor":"#000000","tickSize":-4,"tickWidth":1,"labelPadding":6,
    "labelFont":"DejaVu Sans","labelFontSize":9,"labelColor":"#000000","labelAlign":"left","labelBaseline":"middle"}},
  "y2":{"field":"h"}}},
{"data":{"name":"candles"},"mark":{"type":"bar","size":3,"stroke":"#000000","strokeWidth":1},
 "encoding":{
  "x":{"field":"d","type":"temporal","title":"© ProRealTime.com","scale":{"type":"utc","padding":0,"domain":[{"year":1991,"month":9,"date":24,"utc":true},{"year":2014,"month":9,"date":1,"utc":true}]}},
  "y":{"field":"o","type":"quantitative","title":null,"scale":{"type":"log","domain":[4.271,90.93],"nice":false,"zero":false}},
  "y2":{"field":"c"},
  "fill":{"condition":{"test":"datum.c >= datum.o","value":"#50c050"},"value":"#e0625d"}}},
{"data":{"name":"ema40"},"mark":{"type":"line","interpolate":"monotone","strokeWidth":2.6},
 "encoding":{
  "x":{"field":"d","type":"temporal","title":"© ProRealTime.com","scale":{"type":"utc","padding":0,"domain":[{"year":1991,"month":9,"date":24,"utc":true},{"year":2014,"month":9,"date":1,"utc":true}]}},
  "y":{"field":"v","type":"quantitative","title":null,"scale":{"type":"log","domain":[4.271,90.93],"nice":false,"zero":false}},
  "color":{"datum":"EMM40","scale":{"domain":["CARREFOUR","EMM10","EMM40","Bollinger 20 2.0"],"range":["#000000","#14a5a5","#aaaaaa","#8000c8"]},
   "legend":{"title":"Valor","orient":"none","legendX":-2,"legendY":-18,"direction":"horizontal","titleOrient":"left",
    "titleFont":"DejaVu Sans","titleFontSize":10,"titleFontWeight":"normal","titleColor":"#000000","titlePadding":9,
    "labelFont":"DejaVu Sans","labelFontSize":10,"labelColor":"#000000","labelLimit":0,"labelOffset":5,
    "symbolType":"stroke","symbolSize":100,"symbolStrokeWidth":3.5,"columnPadding":2,"padding":4,
    "strokeColor":"#222222",
    "fillColor":{"value":{"gradient":"linear","x1":0,"y1":0,"x2":1,"y2":0,"stops":[{"offset":0,"color":"#9fc5d6"},{"offset":0.5,"color":"#cddfe7"},{"offset":1,"color":"#e5ecf0"}]}},
    "labelExpr":"datum.label == 'CARREFOUR' ? 'CARREFOUR\u00a0 año +Bajo: 13,375 +Alto: 19,340' : datum.label == 'Bollinger 20 2.0' ? pad(datum.label, 105, '\u00a0') + '\u200b' : datum.label"}}}},
{"data":{"name":"ema10"},"mark":{"type":"line","interpolate":"monotone","strokeWidth":2.6},
 "encoding":{
  "x":{"field":"d","type":"temporal","title":"© ProRealTime.com","scale":{"type":"utc","padding":0,"domain":[{"year":1991,"month":9,"date":24,"utc":true},{"year":2014,"month":9,"date":1,"utc":true}]}},
  "y":{"field":"v","type":"quantitative","title":null,"scale":{"type":"log","domain":[4.271,90.93],"nice":false,"zero":false}},
  "color":{"datum":"EMM10","scale":{"domain":["CARREFOUR","EMM10","EMM40","Bollinger 20 2.0"],"range":["#000000","#14a5a5","#aaaaaa","#8000c8"]}}}},
{"data":{"name":"bbup"},"mark":{"type":"line","interpolate":"monotone","strokeWidth":3.4},
 "encoding":{
  "x":{"field":"d","type":"temporal","title":"© ProRealTime.com","scale":{"type":"utc","padding":0,"domain":[{"year":1991,"month":9,"date":24,"utc":true},{"year":2014,"month":9,"date":1,"utc":true}]}},
  "y":{"field":"v","type":"quantitative","title":null,"scale":{"type":"log","domain":[4.271,90.93],"nice":false,"zero":false}},
  "color":{"datum":"Bollinger 20 2.0","scale":{"domain":["CARREFOUR","EMM10","EMM40","Bollinger 20 2.0"],"range":["#000000","#14a5a5","#aaaaaa","#8000c8"]}}}},
{"data":{"name":"bblo"},"mark":{"type":"line","interpolate":"monotone","strokeWidth":3.4},
 "encoding":{
  "x":{"field":"d","type":"temporal","title":"© ProRealTime.com","scale":{"type":"utc","padding":0,"domain":[{"year":1991,"month":9,"date":24,"utc":true},{"year":2014,"month":9,"date":1,"utc":true}]}},
  "y":{"field":"v","type":"quantitative","title":null,"scale":{"type":"log","domain":[4.271,90.93],"nice":false,"zero":false}},
  "color":{"datum":"Bollinger 20 2.0","scale":{"domain":["CARREFOUR","EMM10","EMM40","Bollinger 20 2.0"],"range":["#000000","#14a5a5","#aaaaaa","#8000c8"]}}}},
{"data":{"name":"last"},
 "layer":[
  {"mark":{"type":"rule","color":"#000000","strokeWidth":1},
   "encoding":{"y":{"field":"p","type":"quantitative","title":null,"scale":{"type":"log","domain":[4.271,90.93],"nice":false,"zero":false}}}},
  {"mark":{"type":"rect","fill":"#ffc800","stroke":"#000000","strokeWidth":1},
   "encoding":{
    "x":{"datum":{"year":2014,"month":9,"date":12,"utc":true},"type":"temporal","title":"© ProRealTime.com","scale":{"type":"utc","padding":0,"domain":[{"year":1991,"month":9,"date":24,"utc":true},{"year":2014,"month":9,"date":1,"utc":true}]}},
    "x2":{"datum":{"year":2015,"month":9,"date":29,"utc":true}},
    "y":{"datum":15.24,"type":"quantitative","title":null,"scale":{"type":"log","domain":[4.271,90.93],"nice":false,"zero":false}},
    "y2":{"datum":13.775}}},
  {"mark":{"type":"text","font":"DejaVu Sans","fontSize":9,"color":"#000000","align":"center","baseline":"middle"},
   "encoding":{
    "x":{"datum":{"year":2015,"month":3,"date":21,"utc":true},"type":"temporal","title":"© ProRealTime.com","scale":{"type":"utc","padding":0,"domain":[{"year":1991,"month":9,"date":24,"utc":true},{"year":2014,"month":9,"date":1,"utc":true}]}},
    "y":{"field":"p","type":"quantitative","title":null,"scale":{"type":"log","domain":[4.271,90.93],"nice":false,"zero":false}},
    "text":{"field":"t"}}}
 ]}
]
}
